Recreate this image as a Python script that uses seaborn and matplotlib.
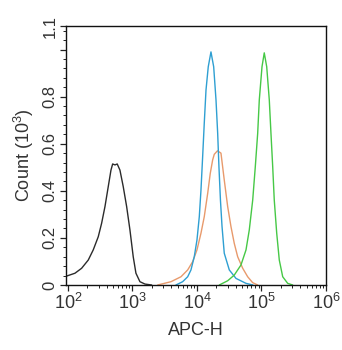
import numpy as np
import pandas as pd
import matplotlib
matplotlib.use("Agg")
import matplotlib.pyplot as plt
import matplotlib.ticker as mticker
import seaborn as sns

# log10(APC-H) positions and counts (x10^3)
black_log = [1.98, 2.109, 2.212, 2.315, 2.392, 2.47, 2.522, 2.574, 2.625, 2.667, 2.693, 2.729,
             2.764, 2.806, 2.857, 2.91, 2.961, 3.012, 3.054, 3.116, 3.194, 3.298]
black_cnt = [0.038, 0.05, 0.071, 0.106, 0.149, 0.205, 0.262, 0.333, 0.418, 0.488, 0.514, 0.51,
             0.514, 0.488, 0.418, 0.333, 0.234, 0.12, 0.05, 0.014, 0.004, 0.0]

blue_log = [3.674, 3.778, 3.856, 3.907, 3.958, 4.0, 4.036, 4.062, 4.088, 4.113, 4.14, 4.175,
            4.217, 4.259, 4.295, 4.321, 4.341, 4.364, 4.388, 4.423, 4.501, 4.605, 4.76, 4.868]
blue_cnt = [0.0, 0.014, 0.035, 0.064, 0.12, 0.191, 0.29, 0.403, 0.545, 0.687, 0.828, 0.927,
            0.99, 0.927, 0.786, 0.644, 0.50, 0.36, 0.25, 0.135, 0.064, 0.028, 0.007, 0.0]

orange_log = [3.391, 3.597, 3.752, 3.856, 3.933, 4.0, 4.062, 4.113, 4.166, 4.206, 4.243, 4.268,
              4.318, 4.372, 4.423, 4.476, 4.527, 4.578, 4.631, 4.709, 4.786, 4.863, 4.941]
orange_cnt = [0.0, 0.014, 0.035, 0.064, 0.099, 0.149, 0.22, 0.29, 0.389, 0.474, 0.531, 0.555,
              0.57, 0.56, 0.446, 0.333, 0.248, 0.177, 0.12, 0.071, 0.035, 0.01, 0.0]

green_log = [4.346, 4.476, 4.578, 4.682, 4.76, 4.811, 4.864, 4.904, 4.941, 4.966, 5.008, 5.043,
             5.081, 5.121, 5.147, 5.174, 5.198, 5.236, 5.276, 5.329, 5.406, 5.484]
green_cnt = [0.0, 0.018, 0.042, 0.085, 0.149, 0.234, 0.361, 0.502, 0.644, 0.786, 0.927, 0.986,
             0.927, 0.786, 0.644, 0.502, 0.361, 0.22, 0.106, 0.035, 0.007, 0.0]

x_ticks = [1e2, 1e3, 1e4, 1e5, 1e6]
x_tick_labels = ["$10^2$", "$10^3$", "$10^4$", "$10^5$", "$10^6$"]
y_ticks = [0, 0.2, 0.4, 0.6, 0.8, 1.0, 1.1]
y_tick_labels = ["0", "0.2", "0.4", "0.6", "0.8", "", "1.1"]

series = {"black": (black_log, black_cnt), "orange": (orange_log, orange_cnt),
          "blue": (blue_log, blue_cnt), "green": (green_log, green_cnt)}
rows = []
for name, (lx, cy) in series.items():
    for a, b in zip(lx, cy):
        rows.append({"series": name, "x": 10 ** a, "count": b})
df = pd.DataFrame(rows)

sns.set_theme(style="ticks")
plt.rcParams["font.family"] = ["Liberation Sans", "DejaVu Sans"]
plt.rcParams["mathtext.fontset"] = "custom"
plt.rcParams["mathtext.rm"] = "Liberation Sans"
plt.rcParams["mathtext.it"] = "Liberation Sans"
plt.rcParams["mathtext.bf"] = "Liberation Sans"

palette = {"black": "#2b2b2b", "orange": "#e89a6c", "blue": "#2e9fd2", "green": "#46c846"}
text_color = "#333333"

fig = plt.figure(figsize=(3.42, 3.5), dpi=100)
ax = fig.add_axes([66 / 342, 65 / 350, 260 / 342, 259 / 350])
sns.lineplot(data=df, x="x", y="count", hue="series", palette=palette, sort=False,
             estimator=None, linewidth=1.0, legend=False, ax=ax)
ax.set_xscale("log")
ax.set_xlim(10 ** 1.97, 1e6)
ax.set_ylim(0, 1.1)
ax.set_xticks(x_ticks)
ax.set_xticklabels(x_tick_labels, fontsize=13, color=text_color)
ax.xaxis.set_minor_locator(mticker.LogLocator(base=10, subs=np.arange(2, 10), numticks=20))
ax.xaxis.set_minor_formatter(mticker.NullFormatter())
ax.set_yticks(y_ticks)
ax.set_yticklabels(y_tick_labels, fontsize=12, rotation=90, va="center", color=text_color)
ax.yaxis.set_minor_locator(mticker.MultipleLocator(0.04))
ax.tick_params(which="major", direction="out", length=4, width=0.9, color="#222222", pad=2)
ax.tick_params(which="minor", direction="out", length=2, width=0.7, color="#222222")
for s in ax.spines.values():
    s.set_linewidth(1.0)
    s.set_color("#111111")
ax.set_xlabel("APC-H", fontsize=13, labelpad=6, color=text_color)
ax.set_ylabel("Count (10$^3$)", fontsize=13, labelpad=5, color=text_color)
fig.savefig("out.png", dpi=100)
